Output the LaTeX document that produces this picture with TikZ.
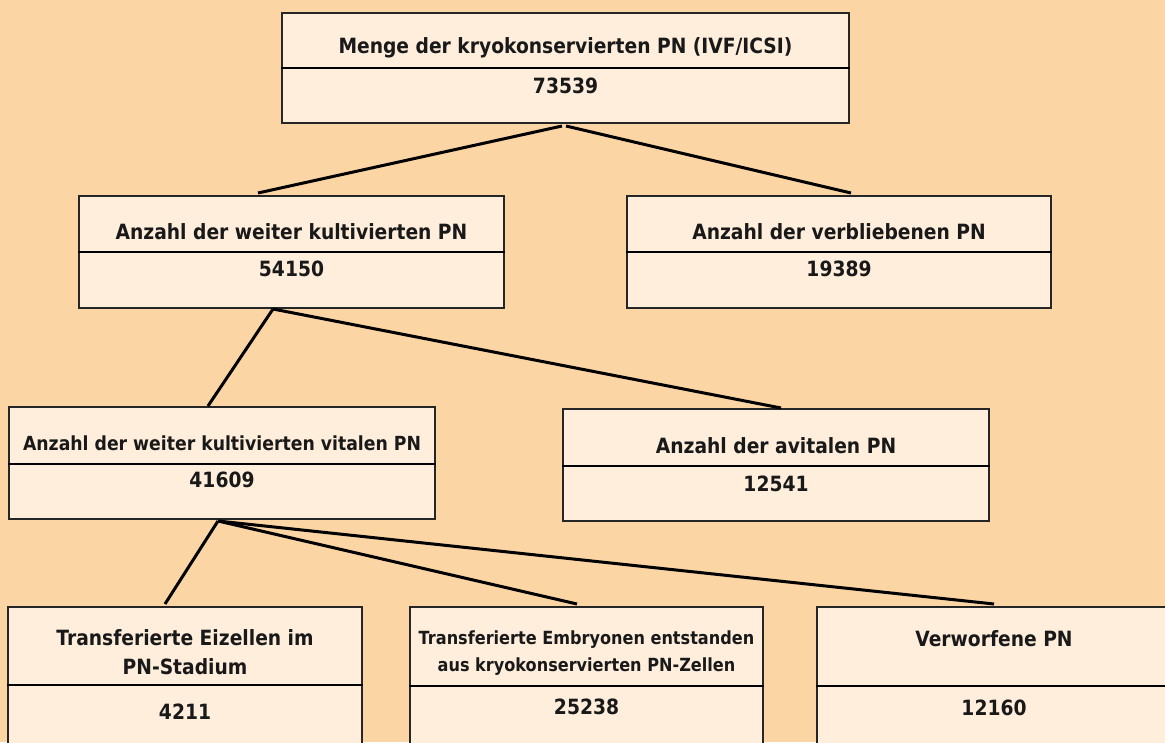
\documentclass[tikz,border=0pt]{standalone}
\usepackage{fontspec}
\setmainfont{DejaVu Sans}[FakeStretch=0.89]
\definecolor{bgpeach}{HTML}{FCD5A4}
\definecolor{boxfill}{HTML}{FFEEDC}
\begin{document}
\begin{tikzpicture}[x=1pt,y=-1pt,
  box/.style={draw=black!85, line width=1.3pt, fill=boxfill, rectangle, inner sep=0pt},
  divline/.style={draw=black, line width=1.6pt},
  lab/.style={font=\bfseries\fontsize{21}{25}\selectfont, text=black!90, inner sep=0pt, align=center},
  smalllab/.style={font=\bfseries\fontsize{18.1}{27}\selectfont, text=black!90, inner sep=0pt, align=center},
  conn/.style={draw=black, line width=3pt}]
\useasboundingbox (0,0) rectangle (1165,742);
\fill[bgpeach] (0,0) rectangle (1165,742);
\clip (0,0) rectangle (1165,742);

% boxes
\node[box, minimum width=567, minimum height=110] (b1) at (565.5,68) {};
\node[box, minimum width=425, minimum height=112] (b2) at (291.5,252) {};
\node[box, minimum width=424, minimum height=112] (b3) at (839,252) {};
\node[box, minimum width=426, minimum height=112] (b4) at (222,463) {};
\node[box, minimum width=426, minimum height=112] (b5) at (776,465) {};
\node[box, minimum width=354, minimum height=154] (b6) at (185,684) {};
\node[box, minimum width=353, minimum height=154] (b7) at (586.5,684) {};
\node[box, minimum width=354, minimum height=154] (b8) at (994,684) {};

% dividers
\draw[divline] (b1.west |- 0,68) -- (b1.east |- 0,68);
\draw[divline] (b2.west |- 0,252) -- (b2.east |- 0,252);
\draw[divline] (b3.west |- 0,252) -- (b3.east |- 0,252);
\draw[divline] (b4.west |- 0,464) -- (b4.east |- 0,464);
\draw[divline] (b5.west |- 0,466) -- (b5.east |- 0,466);
\draw[divline] (b6.west |- 0,685) -- (b6.east |- 0,685);
\draw[divline] (b7.west |- 0,686) -- (b7.east |- 0,686);
\draw[divline] (b8.west |- 0,686) -- (b8.east |- 0,686);

% texts
\node[lab] (t1) at (565.5,48) {Menge der kryokonservierten PN (IVF/ICSI)};
\node[lab] (n1) at (565.5,86) {73539};
\node[lab] (t2) at (291.5,232) {Anzahl der weiter kultivierten PN};
\node[lab] (n2) at (291.5,269) {54150};
\node[lab] (t3) at (839,232) {Anzahl der verbliebenen PN};
\node[lab] (n3) at (839,269) {19389};
\node[lab, font=\bfseries\fontsize{19.4}{23}\selectfont] (t4) at (222,443) {Anzahl der weiter kultivierten vitalen PN};
\node[lab] (n4) at (222,480) {41609};
\node[lab] (t5) at (776,446) {Anzahl der avitalen PN};
\node[lab] (n5) at (776,484) {12541};
\node[lab, font=\bfseries\fontsize{21}{29}\selectfont] (t6) at (185,652.5) {Transferierte Eizellen im\\PN-Stadium};
\node[lab] (n6) at (185,712) {4211};
\node[smalllab] (t7) at (586.5,653.5) {Transferierte Embryonen entstanden\\aus kryokonservierten PN-Zellen};
\node[lab] (n7) at (586.5,707) {25238};
\node[lab] (t8) at (994,639) {Verworfene PN};
\node[lab] (n8) at (994,708) {12160};

% connector endpoints
\coordinate (b1l) at (562,126);
\coordinate (b1r) at (566,126);
\coordinate (b2in) at (258,193);
\coordinate (b3in) at (851,193);
\coordinate (b2out) at (273,309);
\coordinate (b4in) at (208,406);
\coordinate (b5in) at (781,408);
\coordinate (b4out) at (218,521);
\coordinate (b6in) at (165,604);
\coordinate (b7in) at (577,604);
\coordinate (b8in) at (994,604);

\draw[conn] (b1l) -- (b2in);
\draw[conn] (b1r) -- (b3in);
\draw[conn] (b2out) -- (b4in);
\draw[conn] (b2out) -- (b5in);
\draw[conn] (b4out) -- (b6in);
\draw[conn] (b4out) -- (b7in);
\draw[conn] (b4out) -- (b8in);
\end{tikzpicture}
\end{document}
